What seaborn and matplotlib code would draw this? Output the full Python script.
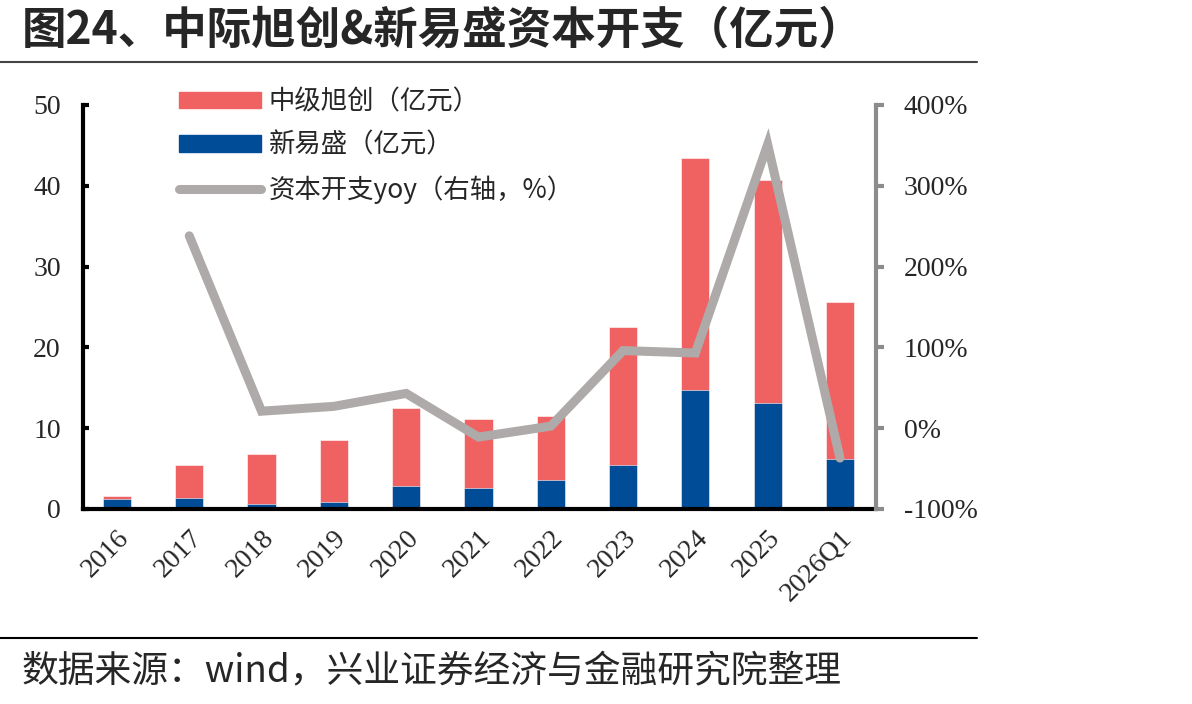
import matplotlib.pyplot as plt
import numpy as np
import pandas as pd
import seaborn as sns
from matplotlib.lines import Line2D
from matplotlib.patches import Patch

sns.set_style('white')
plt.rcParams['font.family'] = ['Noto Sans CJK SC', 'DejaVu Sans']

years = ['2016', '2017', '2018', '2019', '2020', '2021', '2022', '2023', '2024', '2025', '2026Q1']
zjxc = [0.4, 4.2, 6.2, 7.6, 9.6, 8.5, 7.9, 17.0, 28.7, 27.6, 19.4]      # 中级旭创 (亿元)
xys = [1.2, 1.3, 0.6, 0.9, 2.9, 2.6, 3.6, 5.5, 14.7, 13.1, 6.2]        # 新易盛 (亿元)
yoy = [np.nan, 238, 21, 27, 43, -11, 2.5, 96, 93, 351, -37]            # 资本开支yoy (%)

RED = '#F06262'
BLUE = '#004C97'
GRAY = '#AEAAA9'

df = pd.DataFrame({'year': years, 'zjxc': zjxc, 'xys': xys, 'yoy': yoy})
df['total'] = df['zjxc'] + df['xys']

fig = plt.figure(figsize=(11.92, 7.04), dpi=100)
ax = fig.add_axes([0.0696, 0.277, 0.6654, 0.574])

sns.barplot(data=df, x='year', y='total', color=RED, width=0.39, saturation=1, ax=ax)
sns.barplot(data=df, x='year', y='xys', color=BLUE, width=0.39, saturation=1, ax=ax)
for p in ax.patches:
    p.set_edgecolor('white')
    p.set_linewidth(0.4)

ax.set_xlim(-0.47, 10.5)
ax.set_ylim(0, 50)
ax.set_xlabel('')
ax.set_ylabel('')

serif = ['Liberation Serif', 'DejaVu Serif']
ax.set_yticks(range(0, 51, 10), [str(v) for v in range(0, 51, 10)], family=serif, fontsize=20)
ax.set_xticks(range(len(years)), years, family=serif, fontsize=20, rotation=45,
              ha='right', rotation_mode='anchor')
ax.tick_params(axis='y', direction='in', length=4, width=3, color='black', pad=16)
ax.tick_params(axis='x', length=0, pad=12)
for s in ['top', 'right']:
    ax.spines[s].set_visible(False)
for s in ['left', 'bottom']:
    ax.spines[s].set_linewidth(3)
    ax.spines[s].set_color('black')

ax2 = ax.twinx()
line_df = df.dropna(subset=['yoy']).copy()
line_df['pos'] = line_df.index.astype(float)
sns.lineplot(data=line_df, x='pos', y='yoy', color=GRAY, linewidth=6.5,
             solid_capstyle='round', solid_joinstyle='miter', ax=ax2)
ax2.set_ylim(-100, 400)
ax2.set_yticks(range(-100, 401, 100), [f'{v}%' for v in range(-100, 401, 100)],
               family=serif, fontsize=20)
ax2.set_ylabel('')
ax2.set_xlabel('')
ax2.tick_params(axis='y', direction='out', length=6, width=3, color='#8C8C8C', pad=14)
for s in ['top', 'left', 'bottom']:
    ax2.spines[s].set_visible(False)
ax2.spines['right'].set_linewidth(3)
ax2.spines['right'].set_color('#8C8C8C')
ax2.set_xlim(-0.47, 10.5)

handles = [Patch(color=RED), Patch(color=BLUE),
           Line2D([0], [0], color=GRAY, linewidth=6.5, solid_capstyle='round')]
labels = ['中级旭创（亿元）', '新易盛（亿元）', '资本开支yoy（右轴，%）']
ax.legend(handles, labels, loc='upper left', bbox_to_anchor=(0.091, 1.10), frameon=False,
          fontsize=19, handlelength=3.1, handleheight=0.6, labelspacing=0.63, handletextpad=0.3)

fig.text(0.018, 0.957, '图24、中际旭创&新易盛资本开支（亿元）', fontsize=32, fontweight='bold',
         va='center', ha='left')
fig.add_artist(Line2D([0, 0.82], [0.912, 0.912], color='#444444', linewidth=1.5))
fig.add_artist(Line2D([0, 0.82], [0.094, 0.094], color='black', linewidth=1.5))
fig.text(0.018, 0.047, '数据来源：wind，兴业证券经济与金融研究院整理', fontsize=26.5,
         va='center', ha='left')

fig.savefig('out.png', dpi=100)
